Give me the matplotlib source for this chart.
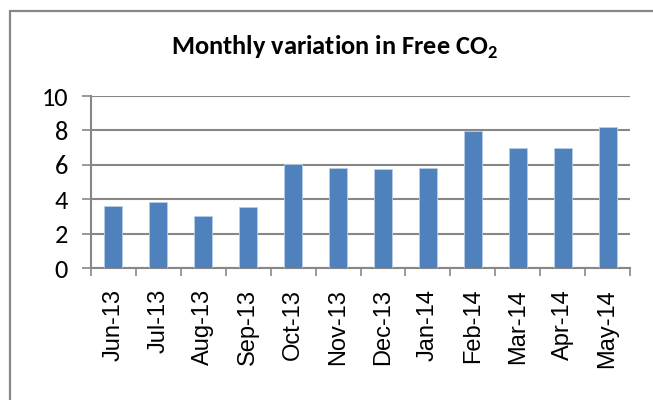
import matplotlib.pyplot as plt
import numpy as np
from matplotlib.patches import Rectangle

# ----------------------------------
# Data
# ----------------------------------

months = ["Jun-13", "Jul-13", "Aug-13", "Sep-13", "Oct-13", "Nov-13",
          "Dec-13", "Jan-14", "Feb-14", "Mar-14", "Apr-14", "May-14"]
free_co2 = [3.63, 3.84, 3.05, 3.53, 6.05, 5.81,
            5.78, 5.81, 7.95, 7.0, 7.0, 8.2]
y_ticks = [0, 2, 4, 6, 8, 10]

# ----------------------------------
# Plot
# ----------------------------------

W, H = 653, 400
fig = plt.figure(figsize=(W / 100, H / 100), dpi=100, facecolor="white")

# outer chart border
fig.patches.append(Rectangle((10 / W, -0.1), 1.2, (H - 11) / H + 0.1,
                             transform=fig.transFigure, fill=False,
                             edgecolor="#878787", linewidth=1.6))

ax = fig.add_axes([91 / W, (H - 268) / H, (630 - 91) / W, (268 - 96) / H])

x = np.arange(len(months))
ax.bar(x, free_co2, width=0.4, color="#4f81bd", edgecolor="#b9cde5",
       linewidth=0.6, zorder=3)

ax.set_xlim(-0.5, len(months) - 0.5)
ax.set_ylim(0, 10)

# ----------------------------------
# Grid / axes
# ----------------------------------

ax.set_yticks(y_ticks)
ax.set_yticklabels([str(t) for t in y_ticks], fontsize=19,
                   family=["Carlito", "DejaVu Sans"])
ax.yaxis.grid(True, color="#878787", linewidth=1.5, zorder=0)
ax.tick_params(axis="y", length=6.5, width=1.2, color="#878787", pad=10)

ax.set_xticks(np.arange(len(months) + 1) - 0.5, minor=False)
ax.set_xticklabels([])
ax.set_xticks(x, minor=True)
ax.set_xticklabels(months, minor=True, rotation=90, fontsize=17,
                   family=["Liberation Sans", "DejaVu Sans"])
ax.tick_params(axis="x", which="major", length=6, width=1.2,
               color="#878787")
ax.tick_params(axis="x", which="minor", length=0, pad=15)

for side in ["top", "right"]:
    ax.spines[side].set_visible(False)
ax.spines["left"].set_color("#878787")
ax.spines["left"].set_linewidth(1.5)
ax.spines["bottom"].set_color("#878787")
ax.spines["bottom"].set_linewidth(1.5)

# ----------------------------------
# Title
# ----------------------------------

fig.text(335 / W, 1 - 47 / H, "Monthly variation in Free CO$_\\mathregular{2}$",
         ha="center", va="center", fontsize=19, fontweight="bold",
         family=["Carlito", "DejaVu Sans"])

plt.savefig("out.png", dpi=100)
